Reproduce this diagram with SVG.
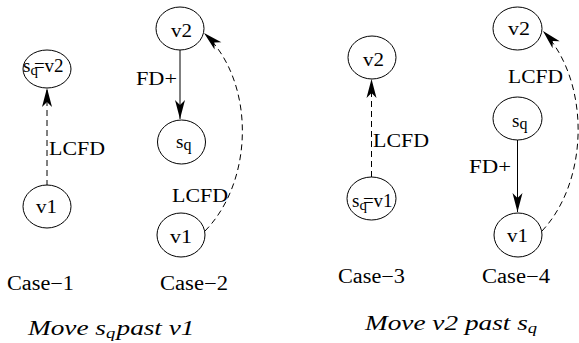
<svg xmlns="http://www.w3.org/2000/svg" width="579" height="343" viewBox="0 0 579 343">
<style>
  .n ellipse { fill: #fff; stroke: #000; stroke-width: 1; }
  text { font-family: "Liberation Serif", "Times New Roman", serif; fill: #000; }
  .nl { font-size: 19px; }
  .el { font-size: 19px; }
  .cs { font-size: 20px; }
  .it { font-size: 22px; font-style: italic; }
  .solid { fill: none; stroke: #000; stroke-width: 1; }
  .dash { fill: none; stroke: #000; stroke-width: 1; stroke-dasharray: 6 4; }
</style>
<defs>
  <marker id="ah" markerUnits="userSpaceOnUse" markerWidth="22" markerHeight="12" viewBox="-20 -6 22 12" refX="0" refY="0" orient="auto">
    <path d="M0,0 L-19,-5 L-14,0 L-19,5 Z" fill="#000"/>
  </marker>
</defs>
<rect width="579" height="343" fill="#fff"/>

<g id="connectors">
  <line class="dash" x1="47" y1="186" x2="47" y2="88" marker-end="url(#ah)"/>
  <line class="solid" x1="180" y1="50" x2="180" y2="119" marker-end="url(#ah)"/>
  <path class="dash" d="M205,231 C255,180 255,80 204,33" marker-end="url(#ah)"/>
  <line class="dash" x1="371.5" y1="177" x2="371.5" y2="79" marker-end="url(#ah)"/>
  <line class="solid" x1="517.5" y1="140" x2="517.5" y2="212" marker-end="url(#ah)"/>
  <path class="dash" d="M542,231 C590,180 590,80 543,31" marker-end="url(#ah)"/>
  <text class="el" x="49" y="155" textLength="56" lengthAdjust="spacingAndGlyphs">LCFD</text>
  <text class="el" x="136" y="85" textLength="41" lengthAdjust="spacingAndGlyphs">FD+</text>
  <text class="el" x="172" y="202" textLength="56" lengthAdjust="spacingAndGlyphs">LCFD</text>
  <text class="el" x="373" y="147" textLength="56" lengthAdjust="spacingAndGlyphs">LCFD</text>
  <text class="el" x="469" y="173" textLength="42" lengthAdjust="spacingAndGlyphs">FD+</text>
  <text class="el" x="508" y="83" textLength="55" lengthAdjust="spacingAndGlyphs">LCFD</text>
</g>

<g id="c1-sqv2" class="n">
  <ellipse cx="47" cy="69" rx="24" ry="19"/>
  <text class="nl" x="23" y="72">s<tspan font-size="15" dy="3">q</tspan><tspan dx="-4" dy="-3">=v2</tspan></text>
</g>
<g id="c1-v1" class="n">
  <ellipse cx="47" cy="206.5" rx="24" ry="21.5"/>
  <text class="nl" x="36" y="213" textLength="21" lengthAdjust="spacingAndGlyphs">v1</text>
</g>

<g id="c2-v2" class="n">
  <ellipse cx="180" cy="28.5" rx="24" ry="21.5"/>
  <text class="nl" x="171" y="37" textLength="21" lengthAdjust="spacingAndGlyphs">v2</text>
</g>
<g id="c2-sq" class="n">
  <ellipse cx="181.5" cy="142" rx="24" ry="22"/>
  <text class="nl" x="176" y="148">s<tspan font-size="16" dy="2">q</tspan></text>
</g>
<g id="c2-v1" class="n">
  <ellipse cx="181" cy="235" rx="24" ry="22"/>
  <text class="nl" x="170" y="243" textLength="22" lengthAdjust="spacingAndGlyphs">v1</text>
</g>

<g id="c3-v2" class="n">
  <ellipse cx="372" cy="57.5" rx="24" ry="21.5"/>
  <text class="nl" x="363" y="66" textLength="21" lengthAdjust="spacingAndGlyphs">v2</text>
</g>
<g id="c3-sqv1" class="n">
  <ellipse cx="371.5" cy="198.5" rx="24.5" ry="21.5"/>
  <text class="nl" x="352" y="207">s<tspan font-size="15" dy="3">q</tspan><tspan dx="-4" dy="-3">=v1</tspan></text>
</g>

<g id="c4-v2" class="n">
  <ellipse cx="517.5" cy="28.5" rx="24.5" ry="21.5"/>
  <text class="nl" x="508" y="35" textLength="22" lengthAdjust="spacingAndGlyphs">v2</text>
</g>
<g id="c4-sq" class="n">
  <ellipse cx="517.5" cy="118.5" rx="24.5" ry="21.5"/>
  <text class="nl" x="512" y="127">s<tspan font-size="16" dy="2">q</tspan></text>
</g>
<g id="c4-v1" class="n">
  <ellipse cx="518" cy="235" rx="24" ry="22"/>
  <text class="nl" x="507" y="242" textLength="21" lengthAdjust="spacingAndGlyphs">v1</text>
</g>

<g id="captions">
  <text class="cs" x="7" y="290" textLength="67" lengthAdjust="spacingAndGlyphs">Case−1</text>
  <text class="cs" x="160" y="290" textLength="68" lengthAdjust="spacingAndGlyphs">Case−2</text>
  <text class="cs" x="338" y="283" textLength="67" lengthAdjust="spacingAndGlyphs">Case−3</text>
  <text class="cs" x="482" y="283" textLength="68" lengthAdjust="spacingAndGlyphs">Case−4</text>
  <text class="it" transform="translate(28,335) scale(1.24,1)">Move s<tspan font-size="15" dy="3">q</tspan><tspan dy="-3" dx="1">past v1</tspan></text>
  <text class="it" transform="translate(365,330) scale(1.24,1)">Move v2 past s<tspan font-size="15" dy="3">q</tspan></text>
</g>
</svg>
